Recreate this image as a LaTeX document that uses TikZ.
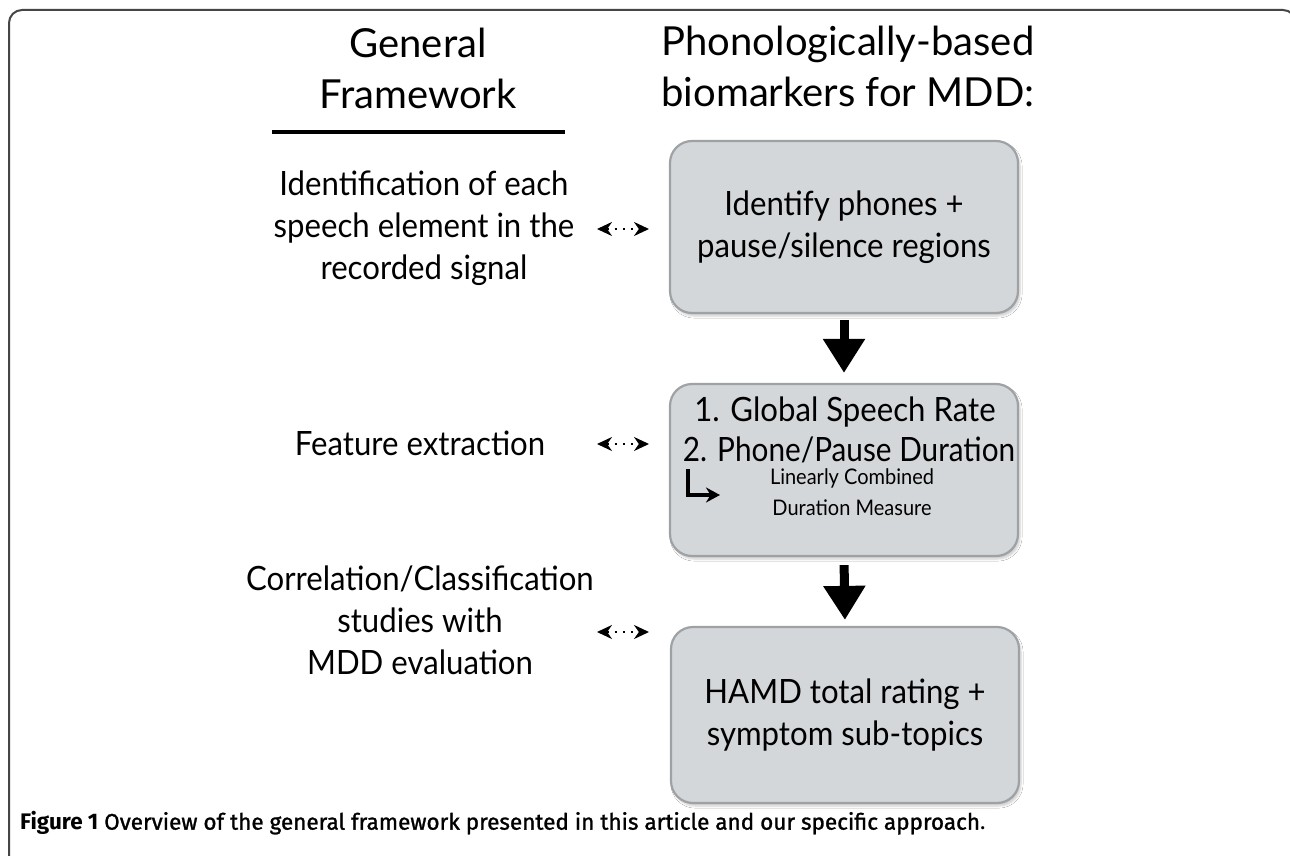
\documentclass[tikz,border=0pt]{standalone}
\usepackage{fontspec}
\setmainfont{Lato}
\newfontfamily\bodyfont{Lato}[FakeStretch=0.93]
\newfontfamily\capfont{Fira Sans}
\newfontfamily\capmid{Fira Sans}[FakeBold=1.2]
\usetikzlibrary{arrows.meta,shadows.blur}
\definecolor{boxfill}{RGB}{212,215,217}
\definecolor{boxline}{RGB}{158,162,164}
\definecolor{framec}{RGB}{70,70,70}
\begin{document}
\begin{tikzpicture}[x=1pt,y=-1pt,
  stagebox/.style={draw=boxline, fill=boxfill, line width=2.2pt, rounded corners=22pt,
    minimum width=348pt, minimum height=172pt, inner sep=0pt,
    blur shadow={shadow xshift=2pt, shadow yshift=-3pt, shadow opacity=20, shadow blur steps=6}},
  bodytext/.style={align=center, inner sep=0pt, font=\bodyfont\fontsize{33.5}{42}\selectfont},
  smalltext/.style={align=center, inner sep=0pt, font=\bodyfont\fontsize{21.5}{31}\selectfont},
  headtext/.style={align=center, inner sep=0pt, font=\fontsize{40}{51}\selectfont},
  flow/.style={-{Triangle[width=40pt,length=34pt]}, line width=9pt},
  link/.style={{Stealth[length=15pt,width=14pt]}-{Stealth[length=15pt,width=14pt]}, line width=2pt, dash pattern=on 2.2pt off 6pt},
  elbow/.style={-{Stealth[length=14pt,width=15pt]}, line width=3.6pt}
]
\clip (0,0) rectangle (1290,856);
\fill[white] (0,0) rectangle (1290,856);
% outer frame
\draw[framec, line width=2pt, rounded corners=13pt] (9,900) -- (9,10) -- (1296,10) -- (1296,900);

% headers
\node[headtext] (hgen) at (418,68) {General\\Framework};
\coordinate (ulL) at (272,132);
\coordinate (ulR) at (565,132);
\draw[line width=3.5pt] (ulL) -- (ulR);
\node[headtext] (hphon) at (848,66) {Phonologically-based\\biomarkers for MDD:};

% boxes
\node[stagebox] (b1) at (844,227) {};
\node[bodytext] (t1) at (b1.center) {Identify phones +\\pause/silence regions};

\node[stagebox] (b2) at (844,470) {};
\node[bodytext, anchor=base] (t21) at (845,421) {1. Global Speech Rate};
\node[bodytext, anchor=base] (t22) at (849,461) {\scalebox{0.955}[1]{2. Phone/Pause Duration}};
\node[smalltext] (t23) at (852,492) {Linearly Combined\\Duration Measure};
\coordinate (e1) at (688,469);
\coordinate (e2) at (688,495);
\coordinate (e3) at (720,495);
\draw[elbow] (e1) -- (e2) -- (e3);

\node[stagebox, minimum height=176pt] (b3) at (845,715) {};
\node[bodytext] (t3) at (b3.center) {HAMD total rating +\\symptom sub-topics};

% flow arrows
\draw[flow, shorten <=6pt, shorten >=10pt] (b1.south) -- (b2.north);
\draw[flow, shorten <=8pt, shorten >=6pt] (b2.south) -- (b3.north);

% left column
\node[bodytext] (l1) at (424,228) {Identification of each\\speech element in the\\recorded signal};
\node[bodytext] (l2) at (420,443) {Feature extraction};
\node[bodytext] (l3) at (420,620) {Correlation/Classification\\studies with\\MDD evaluation};

% dotted double arrows
\coordinate (d1a) at (597,229);
\coordinate (d1b) at (649,229);
\coordinate (d2a) at (597,444);
\coordinate (d2b) at (649,444);
\coordinate (d3a) at (597,632);
\coordinate (d3b) at (649,632);
\draw[link] (d1a) -- (d1b);
\draw[link] (d2a) -- (d2b);
\draw[link] (d3a) -- (d3b);

% caption
\node[anchor=west, inner sep=0pt, font=\fontsize{22.5}{26}\selectfont] (cap) at (20,823)
  {{\capfont\bfseries Figure 1} {\capmid Overview of the general framework presented in this article and our specific approach}{\capfont .}};
\end{tikzpicture}
\end{document}
